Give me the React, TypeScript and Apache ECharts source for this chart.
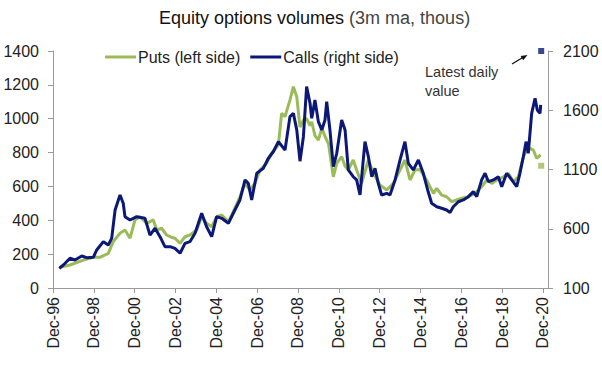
import React, { useEffect, useRef } from "react";
import * as echarts from "echarts";

// x values are months since Dec-1996
const xTickMonths = [0, 24, 48, 72, 96, 120, 144, 168, 192, 216, 240, 264, 288];
const leftTicks = [0, 200, 400, 600, 800, 1000, 1200, 1400];
const rightTicks = [100, 600, 1100, 1600, 2100];

const putsMonth = [
  3.7, 10, 17.8, 23.7, 27.6, 32.5, 35.4, 39.4, 42.3, 45.3, 48.2, 51.1, 55.1, 59, 61, 63.9, 66.8, 69.5,
  71.7, 73.7, 74.7, 77.6, 80.5, 84.5, 87.4, 90.3, 93.3, 96.2, 99.2, 103.1, 106, 109.9, 112.9, 115.8,
  118.7, 121.7, 125.6, 128.5, 132.5, 134.4, 136.4, 139.3, 141.3, 143.3, 145.2, 147.2, 149.1, 151.1,
  152.1, 154, 156, 158, 160, 162, 164.8, 166.8, 169.7, 171.7, 173.6, 176.5, 178.5, 181.4, 185.4, 188.4,
  192.2, 196.2, 200.1, 204, 206.9, 209.9, 212.8, 215.7, 219.6, 223.6, 225.6, 228.5, 231.4, 234.4, 237.3,
  240.3, 244.2, 248.1, 252, 255, 257.9, 260.9, 264.8, 267.7, 270.7, 273.6, 276.5, 278.5, 280.4, 282.4,
  284.3, 286.7,
];
const putsValue = [
  122, 136, 165, 181, 181, 205, 274, 323, 343, 294, 402, 421, 382, 402, 343, 353, 313, 300,
  294, 274, 264, 303, 313, 343, 421, 382, 362, 421, 431, 392, 451, 539, 618, 579,
  618, 697, 737, 796, 845, 1032, 1012, 1110, 1189, 1130, 950, 992, 1000, 960,
  982, 900, 874, 943, 894, 850, 657, 737, 776, 720, 697, 756, 697, 618, 756, 677,
  608, 579, 618, 697, 756, 638, 697, 700, 638, 559, 589, 549, 539, 510, 520,
  530, 539, 559, 598, 638, 618, 638, 657, 677, 628, 657, 776, 815, 825, 815,
  766, 786,
];

const callsMonth = [
  3.7, 6.1, 10, 12.9, 16.9, 19.8, 23.7, 25.7, 29.6, 32.5, 34.5, 36.5, 39.4, 41.3, 42.3, 45.3, 49.2,
  54.1, 57, 60, 62.9, 65.8, 68.8, 71.7, 74.7, 77.6, 80.5, 83.5, 87.4, 90.3, 93.3, 96.2, 99.2, 103.1,
  106, 109.9, 112.9, 114.8, 116.8, 119.8, 123.6, 126.6, 129.5, 132.5, 136.4, 139.3, 141.3, 143.3,
  145.2, 147.2, 149.1, 151.1, 152.1, 154, 156, 158, 159.9, 160.9, 162.8, 164.8, 166.8, 169.7, 171.7,
  173.6, 176.5, 178.5, 180.5, 183.4, 185.4, 187.4, 189.3, 191.2, 193.2, 196.2, 198.1, 201.1, 204,
  206.9, 208.9, 211.8, 214.8, 217.7, 220.6, 222.6, 225.6, 228.5, 231.4, 233.4, 235.3, 238.3, 241.2,
  244.2, 247.1, 249.1, 252, 254, 256, 258.9, 261.8, 263.8, 266.7, 269.7, 272.6, 274.5, 276.5, 278.1,
  279.4, 281.4, 283.4, 284.7, 286.3, 286.7,
];
const callsValue = [
  266, 294, 351, 336, 370, 356, 359, 421, 491, 463, 519, 758, 885, 815, 702, 674, 702,
  688, 547, 604, 533, 449, 449, 435, 393, 477, 491, 562, 731, 617, 533, 702, 688, 646,
  731, 843, 1012, 984, 843, 1068, 1110, 1195, 1250, 1335, 1265, 1546, 1574, 1434,
  1170, 1377, 1799, 1659, 1532, 1687, 1504, 1434, 1518, 1673, 1434, 1124, 1237, 1518, 1434,
  1096, 1039, 1012, 885, 1335, 1208, 1039, 1110, 984, 885, 899, 885, 1012, 1180,
  1335, 1152, 1096, 1180, 1068, 910, 815, 786, 773, 758, 736, 786, 828, 843,
  871, 913, 871, 1012, 1068, 997, 1012, 1039, 955, 1068, 1012, 955, 1068, 1208, 1335,
  1237, 1574, 1701, 1602, 1574, 1645,
];

const latestMonth = 287;
const latestPuts = 722;
const latestCalls = 2100;

const GREEN = "#9BBB59";
const BLUE = "#0C1878";
const FONT = "Liberation Sans, Arial, sans-serif";

function monthLabel(m: number): string {
  const yr = (96 + Math.round(m / 12)) % 100;
  return "Dec-" + (yr < 10 ? "0" + yr : String(yr));
}

export default function App() {
  const ref = useRef<HTMLDivElement>(null);
  useEffect(() => {
    if (!ref.current) return;
    const chart = echarts.init(ref.current, undefined, { renderer: "svg" });
    const puts = putsMonth.map((m, i) => [m, putsValue[i]]);
    const calls = callsMonth.map((m, i) => [m, callsValue[i]]);
    const axisLine = { show: true, lineStyle: { color: "#9a9a9a", width: 1 } };
    const axisTick = { show: true, length: 5, lineStyle: { color: "#9a9a9a" } };
    const plain = (v: number) => String(v);
    chart.setOption({
      animation: false,
      textStyle: { fontFamily: FONT },
      title: {
        left: 154,
        top: 4,
        text: "{a|Equity options volumes} {b|(3m ma, thous)}",
        textStyle: {
          fontWeight: "normal",
          rich: {
            a: { fontSize: 18, color: "#111", fontFamily: FONT, fontWeight: "normal" },
            b: { fontSize: 18, color: "#444", fontFamily: FONT, fontWeight: "normal" },
          },
        },
      },
      legend: {
        left: 100,
        top: 44,
        data: ["Puts (left side)", "Calls (right side)"],
        icon: "rect",
        itemWidth: 31,
        itemHeight: 3,
        itemGap: 10,
        textStyle: { fontSize: 16, color: "#222", fontFamily: FONT, padding: [0, 0, 0, -3] },
      },
      grid: { left: 53, right: 54, top: 51, bottom: 87, containLabel: false },
      xAxis: {
        type: "value",
        min: 0,
        max: 291,
        splitLine: { show: false },
        axisLine,
        axisTick: { ...axisTick, customValues: xTickMonths },
        axisLabel: {
          customValues: xTickMonths,
          rotate: 90,
          margin: 9,
          fontSize: 16,
          color: "#222",
          fontFamily: FONT,
          formatter: (v: number) => monthLabel(v),
        },
      },
      yAxis: [
        {
          type: "value",
          min: 0,
          max: 1400,
          interval: 200,
          splitLine: { show: false },
          axisLine,
          axisTick: { ...axisTick, customValues: leftTicks },
          axisLabel: {
            customValues: leftTicks,
            margin: 14,
            fontSize: 16,
            color: "#222",
            fontFamily: FONT,
            formatter: plain,
          },
        },
        {
          type: "value",
          min: 100,
          max: 2100,
          position: "right",
          splitLine: { show: false },
          axisLine,
          axisTick: { ...axisTick, customValues: rightTicks },
          axisLabel: {
            customValues: rightTicks,
            margin: 15,
            fontSize: 16,
            color: "#222",
            fontFamily: FONT,
            formatter: plain,
          },
        },
      ],
      series: [
        {
          name: "Puts (left side)",
          type: "line",
          yAxisIndex: 0,
          data: puts,
          showSymbol: false,
          color: GREEN,
          lineStyle: { color: GREEN, width: 3 },
          z: 2,
        },
        {
          name: "Calls (right side)",
          type: "line",
          yAxisIndex: 1,
          data: calls,
          showSymbol: false,
          color: BLUE,
          lineStyle: { color: BLUE, width: 3 },
          z: 3,
        },
        {
          name: "Latest puts",
          type: "scatter",
          yAxisIndex: 0,
          data: [[latestMonth, latestPuts]],
          symbol: "rect",
          symbolSize: 6,
          itemStyle: { color: GREEN },
          z: 4,
        },
        {
          name: "Latest calls",
          type: "scatter",
          yAxisIndex: 1,
          data: [[latestMonth, latestCalls]],
          symbol: "rect",
          symbolSize: 6,
          itemStyle: { color: BLUE },
          z: 4,
        },
      ],
      graphic: [
        {
          type: "text",
          left: 425,
          top: 62,
          style: {
            text: "Latest daily\nvalue",
            fontSize: 14.5,
            lineHeight: 19,
            fill: "#333",
            fontFamily: FONT,
          },
        },
        {
          type: "line",
          shape: { x1: 512, y1: 64, x2: 524, y2: 56.8 },
          style: { stroke: "#111", lineWidth: 1.3 },
        },
        {
          type: "polygon",
          shape: { points: [[527.5, 55], [523.2, 60.2], [520.6, 55.9]] },
          style: { fill: "#111" },
        },
      ],
    });
    return () => chart.dispose();
  }, []);
  return (
    <div
      ref={ref}
      style={{ position: "fixed", left: 0, top: 0, width: 602, height: 375, background: "#fff" }}
    />
  );
}
